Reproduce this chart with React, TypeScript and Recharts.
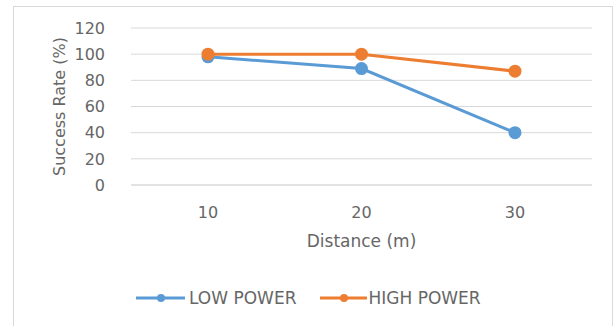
import React from "react";
import { LineChart, Line, XAxis, YAxis, CartesianGrid } from "recharts";

const distances = ["10", "20", "30"];
const lowPower = [98, 89, 40];
const highPower = [100, 100, 87];
const yTicks = [0, 20, 40, 60, 80, 100, 120];

const data = distances.map((d, i) => ({ d, low: lowPower[i], high: highPower[i] }));

const FONT = "'DejaVu Sans', sans-serif";
const TXT = "#666666";
const BLUE = "#5B9BD5";
const ORANGE = "#ED7D31";

export default function App() {
  return (
    <div style={{ position: "absolute", left: 0, top: 0, width: 616, height: 326, background: "#fff", fontFamily: FONT, overflow: "hidden" }}>
      <div style={{ position: "absolute", left: 13, top: 6, width: 600, height: 330, border: "1px solid #d9d9d9", boxSizing: "border-box" }} />
      <LineChart
        width={616}
        height={326}
        data={data}
        margin={{ top: 28, right: 24, left: 0, bottom: 101 }}
      >
        <CartesianGrid vertical={false} stroke="#d9d9d9" strokeWidth={1} />
        <XAxis
          dataKey="d"
          padding={{ left: 77, right: 77 }}
          axisLine={{ stroke: "#d9d9d9" }}
          tickLine={false}
          height={40}
          tick={{ fill: TXT, fontSize: 16, fontFamily: FONT }}
          tickMargin={16}
          label={{ value: "Distance (m)", position: "insideBottom", offset: -22, fill: TXT, fontSize: 17, fontFamily: FONT }}
        />
        <YAxis
          domain={[0, 120]}
          ticks={yTicks}
          width={131}
          axisLine={false}
          tickLine={false}
          tickMargin={20}
          tick={{ fill: TXT, fontSize: 16, fontFamily: FONT }}
          label={{ value: "Success Rate (%)", angle: -90, position: "insideLeft", offset: 59, fill: TXT, fontSize: 16, fontFamily: FONT, style: { textAnchor: "middle" } }}
        />
        <Line dataKey="low" stroke={BLUE} strokeWidth={3} dot={{ r: 5, fill: BLUE, stroke: BLUE }} isAnimationActive={false} />
        <Line dataKey="high" stroke={ORANGE} strokeWidth={3} dot={{ r: 5, fill: ORANGE, stroke: ORANGE }} isAnimationActive={false} />
      </LineChart>
      <div style={{ position: "absolute", left: 136, top: 288, display: "flex", alignItems: "center", fontSize: 17, color: TXT, whiteSpace: "nowrap", lineHeight: "20px" }}>
        <svg width={49} height={12}><line x1={0} y1={6} x2={49} y2={6} stroke={BLUE} strokeWidth={3} /><circle cx={25} cy={6} r={4} fill={BLUE} /></svg>
        <span style={{ marginLeft: 4 }}>LOW POWER</span>
        <svg width={47} height={12} style={{ marginLeft: 24 }}><line x1={0} y1={6} x2={47} y2={6} stroke={ORANGE} strokeWidth={3} /><circle cx={24} cy={6} r={4} fill={ORANGE} /></svg>
        <span style={{ marginLeft: 1 }}>HIGH POWER</span>
      </div>
    </div>
  );
}
